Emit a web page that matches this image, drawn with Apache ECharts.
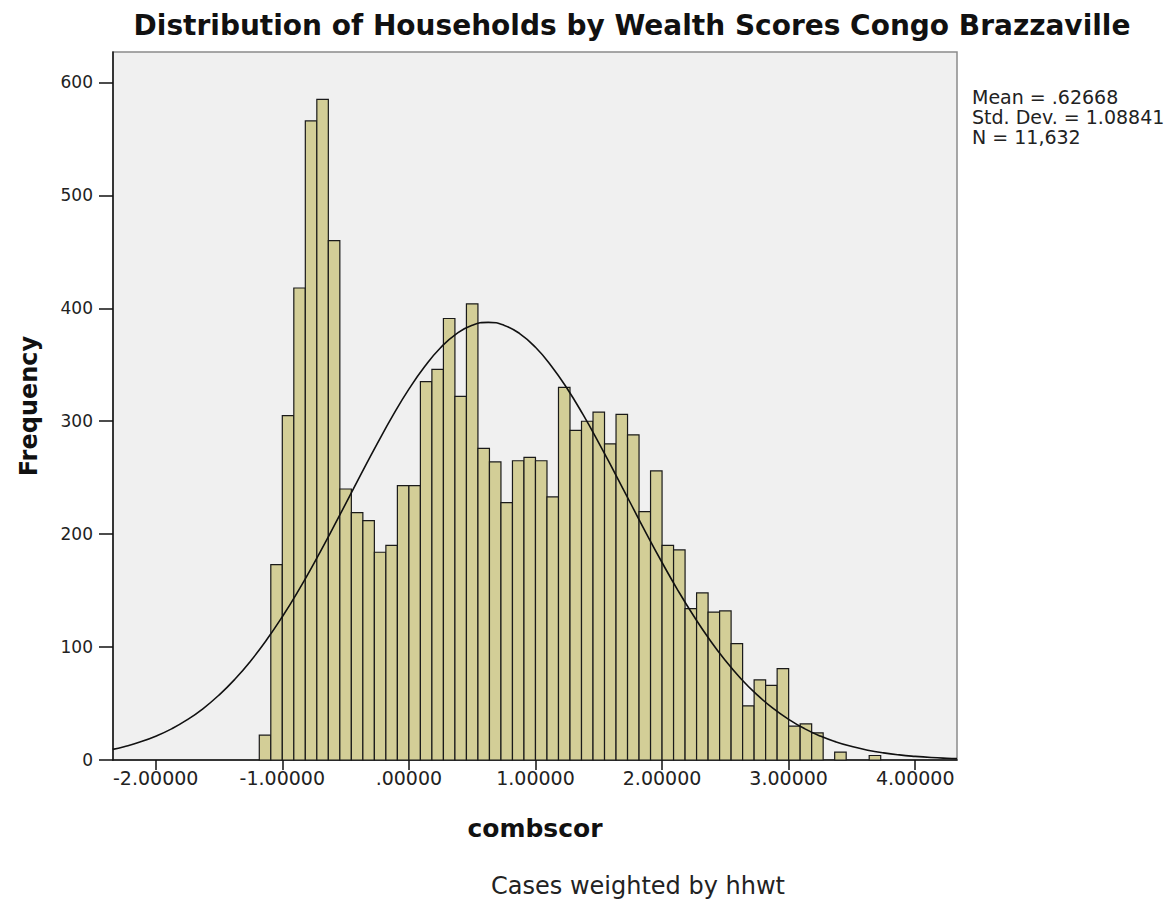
<!DOCTYPE html>
<html><head><meta charset="utf-8">
<script src="https://cdn.jsdelivr.net/npm/echarts@6/dist/echarts.min.js"></script>
<style>html,body{margin:0;padding:0;background:#fff}#c{width:1175px;height:903px}</style>
</head><body><div id="c"></div>
<script>
// ---- data ----
const chartTitle = 'Distribution of Households by Wealth Scores Congo Brazzaville';
const xAxisTitle = 'combscor';
const yAxisTitle = 'Frequency';
const footnote = 'Cases weighted by hhwt';
const statsLines = ['Mean = .62668', 'Std. Dev. = 1.08841', 'N = 11,632'];

// histogram bins: width 1/11 of a unit, first bin starts at -13/11
const binWidth = 1 / 11;
const firstBinStart = -13 / 11;
const frequencies = [
  22, 173, 305, 418, 566, 585, 460, 240, 219, 212,
  184, 190, 243, 243, 335, 346, 391, 322, 404, 276,
  264, 228, 265, 268, 265, 233, 330, 292, 300, 308,
  280, 306, 288, 220, 256, 190, 186, 134, 148, 131,
  132, 103, 48, 71, 66, 81, 30, 32, 24, 0,
  7, 0, 0, 4
];

// normal curve points
const curveX = [-2.34, -2.25, -2.125, -2.0, -1.875, -1.75, -1.625, -1.5, -1.375, -1.25, -1.125, -1.0, -0.875, -0.75, -0.625, -0.5, -0.375, -0.25, -0.125, 0, 0.125, 0.25, 0.375, 0.5, 0.627, 0.75, 0.875, 1.0, 1.125, 1.25, 1.375, 1.5, 1.625, 1.75, 1.875, 2.0, 2.125, 2.25, 2.375, 2.5, 2.625, 2.75, 2.875, 3.0, 3.125, 3.25, 3.375, 3.5, 3.625, 3.75, 3.875, 4.0, 4.125, 4.25, 4.33];
const curveY = [9.4, 11.8, 15.9, 21.1, 27.6, 35.7, 45.6, 57.5, 71.5, 87.7, 106.2, 126.9, 149.6, 174.2, 200.1, 226.8, 253.8, 280.2, 305.4, 328.4, 348.5, 365.1, 377.4, 385.0, 387.6, 385.1, 377.6, 365.5, 349.0, 329.0, 306.0, 280.9, 254.5, 227.6, 200.8, 174.9, 150.3, 127.5, 106.7, 88.1, 71.8, 57.8, 45.9, 36.0, 27.8, 21.2, 16.0, 11.9, 8.7, 6.3, 4.5, 3.2, 2.2, 1.5, 1.2];

const xTickValues = [-2, -1, 0, 1, 2, 3, 4];
const xTickLabels = ['-2.00000', '-1.00000', '.00000', '1.00000', '2.00000', '3.00000', '4.00000'];
const yTickValues = [0, 100, 200, 300, 400, 500, 600];
const yTickLabels = ['0', '100', '200', '300', '400', '500', '600'];

// ---- build ----
const binData = frequencies.map((f, i) => [firstBinStart + i * binWidth, firstBinStart + (i + 1) * binWidth, f]);
const curveData = curveX.map((x, i) => [x, curveY[i]]);

const FONT = '"DejaVu Sans", Verdana, sans-serif';
const chart = echarts.init(document.getElementById('c'), null, { renderer: 'svg' });
chart.setOption({
  backgroundColor: '#ffffff',
  animation: false,
  grid: {
    left: 113, right: 218, top: 52, bottom: 143,
    show: true, backgroundColor: '#f0f0f0', borderColor: '#8a8a8a', borderWidth: 1.5
  },
  xAxis: {
    type: 'value', min: -2.3375, max: 4.33,
    name: xAxisTitle, nameLocation: 'middle', nameGap: 56,
    nameTextStyle: { fontFamily: FONT, fontSize: 25, fontWeight: 'bold', color: '#111' },
    axisLine: { show: true, onZero: false, lineStyle: { color: '#111', width: 1.5 } },
    axisTick: { show: true, length: 10, customValues: xTickValues, lineStyle: { color: '#111', width: 1.5 } },
    axisLabel: {
      customValues: xTickValues, margin: 8,
      fontFamily: FONT, fontSize: 19, color: '#222',
      formatter: v => xTickLabels[xTickValues.indexOf(Math.round(v))] || ''
    },
    splitLine: { show: false }
  },
  yAxis: {
    type: 'value', min: 0, max: 627,
    name: yAxisTitle, nameLocation: 'middle', nameGap: 72, nameRotate: 90,
    nameTextStyle: { fontFamily: FONT, fontSize: 24, fontWeight: 'bold', color: '#111' },
    axisLine: { show: true, onZero: false, lineStyle: { color: '#111', width: 1.5 } },
    axisTick: { show: true, length: 14, customValues: yTickValues, lineStyle: { color: '#111', width: 1.5 } },
    axisLabel: {
      customValues: yTickValues, margin: 20,
      fontFamily: FONT, fontSize: 17, color: '#222',
      formatter: v => yTickLabels[yTickValues.indexOf(Math.round(v))] || ''
    },
    splitLine: { show: false }
  },
  series: [
    {
      type: 'custom',
      data: binData,
      encode: { x: [0, 1], y: 2 },
      renderItem: function (params, api) {
        const s = api.value(0), e = api.value(1), v = api.value(2);
        if (!v) return null;
        const p0 = api.coord([s, v]);
        const p1 = api.coord([e, 0]);
        return {
          type: 'rect',
          shape: { x: p0[0], y: p0[1], width: p1[0] - p0[0], height: p1[1] - p0[1] },
          style: { fill: '#d3ce97', stroke: '#1a1a1a', lineWidth: 1.2 }
        };
      },
      z: 2
    },
    {
      type: 'line',
      data: curveData,
      smooth: true,
      showSymbol: false,
      symbol: 'none',
      lineStyle: { color: '#111', width: 1.6 },
      z: 3
    }
  ],
  graphic: [
    { type: 'text', x: 632, y: 11, style: { text: chartTitle, align: 'center', verticalAlign: 'top', fontFamily: FONT, fontSize: 28, fontWeight: 'bold', fill: '#111' } },
    { type: 'text', x: 972, y: 87, style: { text: statsLines.join('\n'), fontFamily: FONT, fontSize: 19, lineHeight: 20, fill: '#222' } },
    { type: 'text', x: 638, y: 886, style: { text: footnote, align: 'center', verticalAlign: 'middle', fontFamily: FONT, fontSize: 24, fill: '#222' } }
  ]
});
</script>
</body></html>
